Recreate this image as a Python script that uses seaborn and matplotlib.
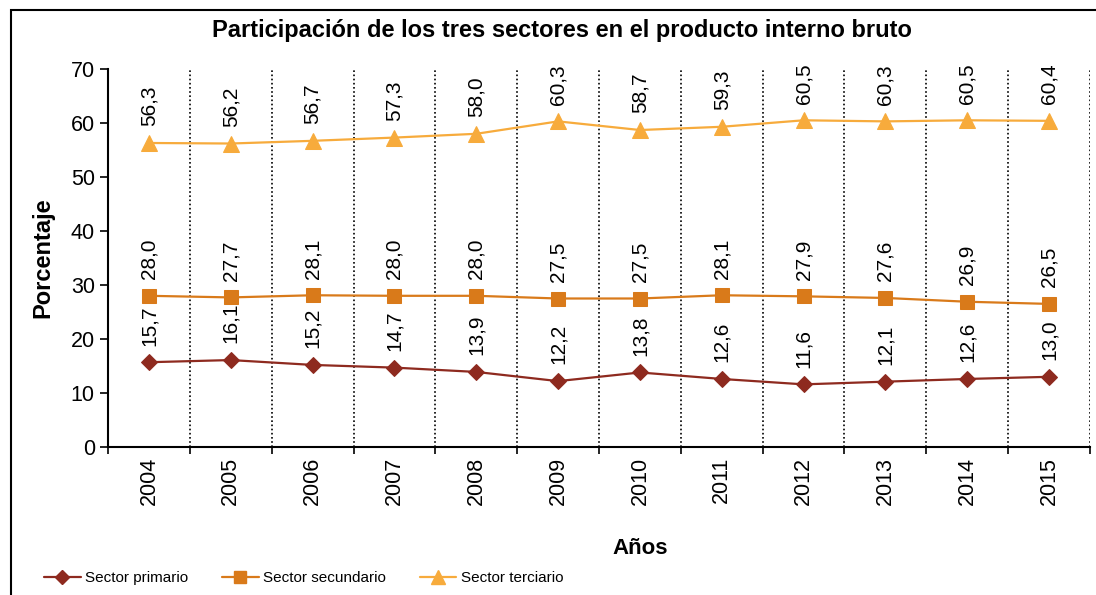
import matplotlib
matplotlib.use("Agg")
import matplotlib.pyplot as plt
from matplotlib.patches import Rectangle
import seaborn as sns
import pandas as pd

# Datos del grafico
years = ["2004", "2005", "2006", "2007", "2008", "2009",
         "2010", "2011", "2012", "2013", "2014", "2015"]
primario = [15.7, 16.1, 15.2, 14.7, 13.9, 12.2, 13.8, 12.6, 11.6, 12.1, 12.6, 13.0]
secundario = [28.0, 27.7, 28.1, 28.0, 28.0, 27.5, 27.5, 28.1, 27.9, 27.6, 26.9, 26.5]
terciario = [56.3, 56.2, 56.7, 57.3, 58.0, 60.3, 58.7, 59.3, 60.5, 60.3, 60.5, 60.4]
series_names = ["Sector primario", "Sector secundario", "Sector terciario"]

colors = {"Sector primario": "#8e2a1f",
          "Sector secundario": "#d97a1a",
          "Sector terciario": "#f7ab3c"}
markers = {"Sector primario": "D", "Sector secundario": "s", "Sector terciario": "^"}
msizes = {"Sector primario": 8, "Sector secundario": 10, "Sector terciario": 11}

rows = []
for name, vals in zip(series_names, [primario, secundario, terciario]):
    for i, v in enumerate(vals):
        rows.append({"idx": i, "valor": v, "sector": name})
df = pd.DataFrame(rows)

sns.set_theme(style="white")
plt.rcParams["font.family"] = ["Liberation Sans", "DejaVu Sans"]
plt.rcParams.update({"text.color": "black", "axes.labelcolor": "black",
                     "xtick.color": "black", "ytick.color": "black"})

fig = plt.figure(figsize=(10.96, 5.95), dpi=100)
ax = fig.add_axes([108 / 1096, 1 - 447 / 595, (1090 - 108) / 1096, (447 - 69) / 595])

for name in series_names:
    sub = df[df["sector"] == name]
    sns.lineplot(data=sub, x="idx", y="valor", ax=ax, color=colors[name],
                 marker=markers[name], markersize=msizes[name],
                 markeredgecolor=colors[name], linewidth=1.6, label=name,
                 legend=False)
    for _, r in sub.iterrows():
        ax.annotate(f"{r['valor']:.1f}".replace(".", ","), (r["idx"], r["valor"]),
                    xytext=(0, 12), textcoords="offset points", rotation=90,
                    ha="center", va="bottom", fontsize=15, color="black")

ax.set_xlim(-0.5, 11.5)
ax.set_ylim(0, 70)
ax.set_yticks(range(0, 71, 10))
ax.set_xticks(range(len(years)))
ax.set_xticklabels(years, rotation=90, fontsize=15.5)
ax.set_xticks([i - 0.5 for i in range(len(years) + 1)], minor=True)
ax.tick_params(axis="x", which="major", length=0, pad=7)
ax.tick_params(axis="x", which="minor", length=5, width=1.2, direction="out", color="black", bottom=True)
ax.tick_params(axis="y", length=6, width=1.2, direction="out", color="black", labelsize=15.5, left=True)

for b in range(1, len(years) + 1):
    ax.axvline(b - 0.5, color="black", linestyle=(0, (1, 1.5)), linewidth=1.2, zorder=0)

for s in ["top", "right"]:
    ax.spines[s].set_visible(False)
for s in ["left", "bottom"]:
    ax.spines[s].set_color("black")
    ax.spines[s].set_linewidth(1.5)

ax.set_xlabel("")
ax.set_ylabel("Porcentaje", fontsize=17, fontweight="bold", labelpad=12)
fig.text(640 / 1096, 1 - 548 / 595, "Años", ha="center", va="center",
         fontsize=16, fontweight="bold")

fig.text(562 / 1096, 1 - 31 / 595, "Participación de los tres sectores en el producto interno bruto",
         ha="center", va="center", fontsize=17, fontweight="bold")

handles = []
for name in series_names:
    h, = ax.plot([], [], color=colors[name], marker=markers[name],
                 markersize=msizes[name] - 1, linewidth=1.6, label=name)
    handles.append(h)
fig.legend(handles=handles, loc="center left", bbox_to_anchor=(44 / 1096, 1 - 578 / 595),
           ncol=3, frameon=False, fontsize=11, handlelength=2.4, handletextpad=0.3,
           columnspacing=2.2, borderaxespad=0, borderpad=0)

fig.patches.append(Rectangle((11 / 1096, -0.05), 1.2, 1 - 10 / 595 + 0.05,
                             transform=fig.transFigure, fill=False,
                             edgecolor="black", linewidth=1.5))

fig.savefig("out.png", dpi=100)
